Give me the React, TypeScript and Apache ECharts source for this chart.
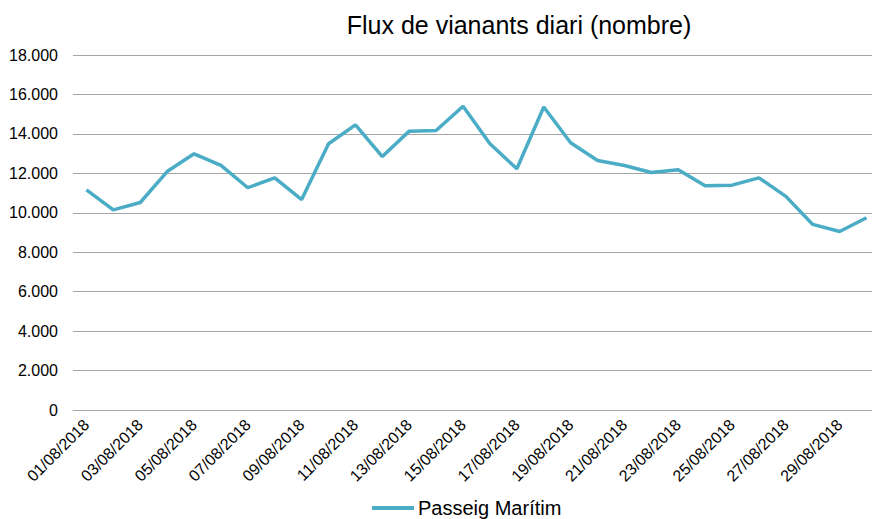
import React, { useEffect, useRef } from "react";
import * as echarts from "echarts";

const categories: string[] = [
  "01/08/2018", "02/08/2018", "03/08/2018", "04/08/2018", "05/08/2018",
  "06/08/2018", "07/08/2018", "08/08/2018", "09/08/2018", "10/08/2018",
  "11/08/2018", "12/08/2018", "13/08/2018", "14/08/2018", "15/08/2018",
  "16/08/2018", "17/08/2018", "18/08/2018", "19/08/2018", "20/08/2018",
  "21/08/2018", "22/08/2018", "23/08/2018", "24/08/2018", "25/08/2018",
  "26/08/2018", "27/08/2018", "28/08/2018", "29/08/2018", "30/08/2018",
];

const passeigMaritim: number[] = [
  11160, 10150, 10520, 12090, 12990, 12400, 11270, 11770, 10670, 13500,
  14460, 12850, 14140, 14170, 15400, 13500, 12230, 15360, 13550, 12650,
  12400, 12040, 12180, 11370, 11400, 11770, 10830, 9410, 9050, 9750,
];

const seriesName = "Passeig Marítim";
const titleText = "Flux de vianants diari (nombre)";

const fmt = (v: number) =>
  String(Math.round(v)).replace(/\B(?=(\d{3})+(?!\d))/g, ".");

export default function App() {
  const ref = useRef<HTMLDivElement>(null);
  useEffect(() => {
    if (!ref.current) return;
    const chart = echarts.init(ref.current, undefined, { renderer: "svg" });
    const font = "'Liberation Sans', Arial, sans-serif";
    chart.setOption({
      animation: false,
      backgroundColor: "#ffffff",
      textStyle: { fontFamily: font },
      title: {
        text: titleText,
        left: 514,
        top: 7,
        textAlign: "center",
        textStyle: { fontSize: 25, fontWeight: "normal", color: "#000000", fontFamily: font },
      },
      legend: {
        data: [{ name: seriesName, icon: "rect" }],
        left: 367,
        top: 493,
        itemWidth: 42,
        itemHeight: 4,
        itemGap: 4,
        textStyle: { fontSize: 20, color: "#000000", fontFamily: font, padding: [0, 0, 0, -1] },
      },
      grid: { left: 73, right: 0, top: 55, bottom: 109, containLabel: false },
      xAxis: {
        type: "category",
        data: categories,
        boundaryGap: true,
        axisLine: { show: true, lineStyle: { color: "#a6a6a6", width: 1 } },
        axisTick: { show: false },
        axisLabel: {
          interval: 1,
          rotate: 45,
          margin: 12,
          fontSize: 16,
          color: "#000000",
          fontFamily: font,
        },
        splitLine: { show: false },
      },
      yAxis: {
        type: "value",
        min: 0,
        max: 18000,
        interval: 2000,
        axisLine: { show: false },
        axisTick: { show: false },
        axisLabel: {
          margin: 15,
          fontSize: 16,
          color: "#000000",
          fontFamily: font,
          formatter: (v: number) => fmt(v),
        },
        splitLine: { show: true, lineStyle: { color: "#a6a6a6", width: 1 } },
      },
      series: [
        {
          name: seriesName,
          type: "line",
          data: passeigMaritim,
          showSymbol: false,
          symbol: "none",
          lineStyle: { color: "#4bacc6", width: 3.5 },
          itemStyle: { color: "#4bacc6" },
        },
      ],
    });
    return () => chart.dispose();
  }, []);
  return (
    <div
      style={{
        position: "absolute",
        left: 0,
        top: 0,
        width: 872,
        height: 519,
        overflow: "hidden",
      }}
    >
      <div ref={ref} style={{ width: 880, height: 519 }} />
    </div>
  );
}
